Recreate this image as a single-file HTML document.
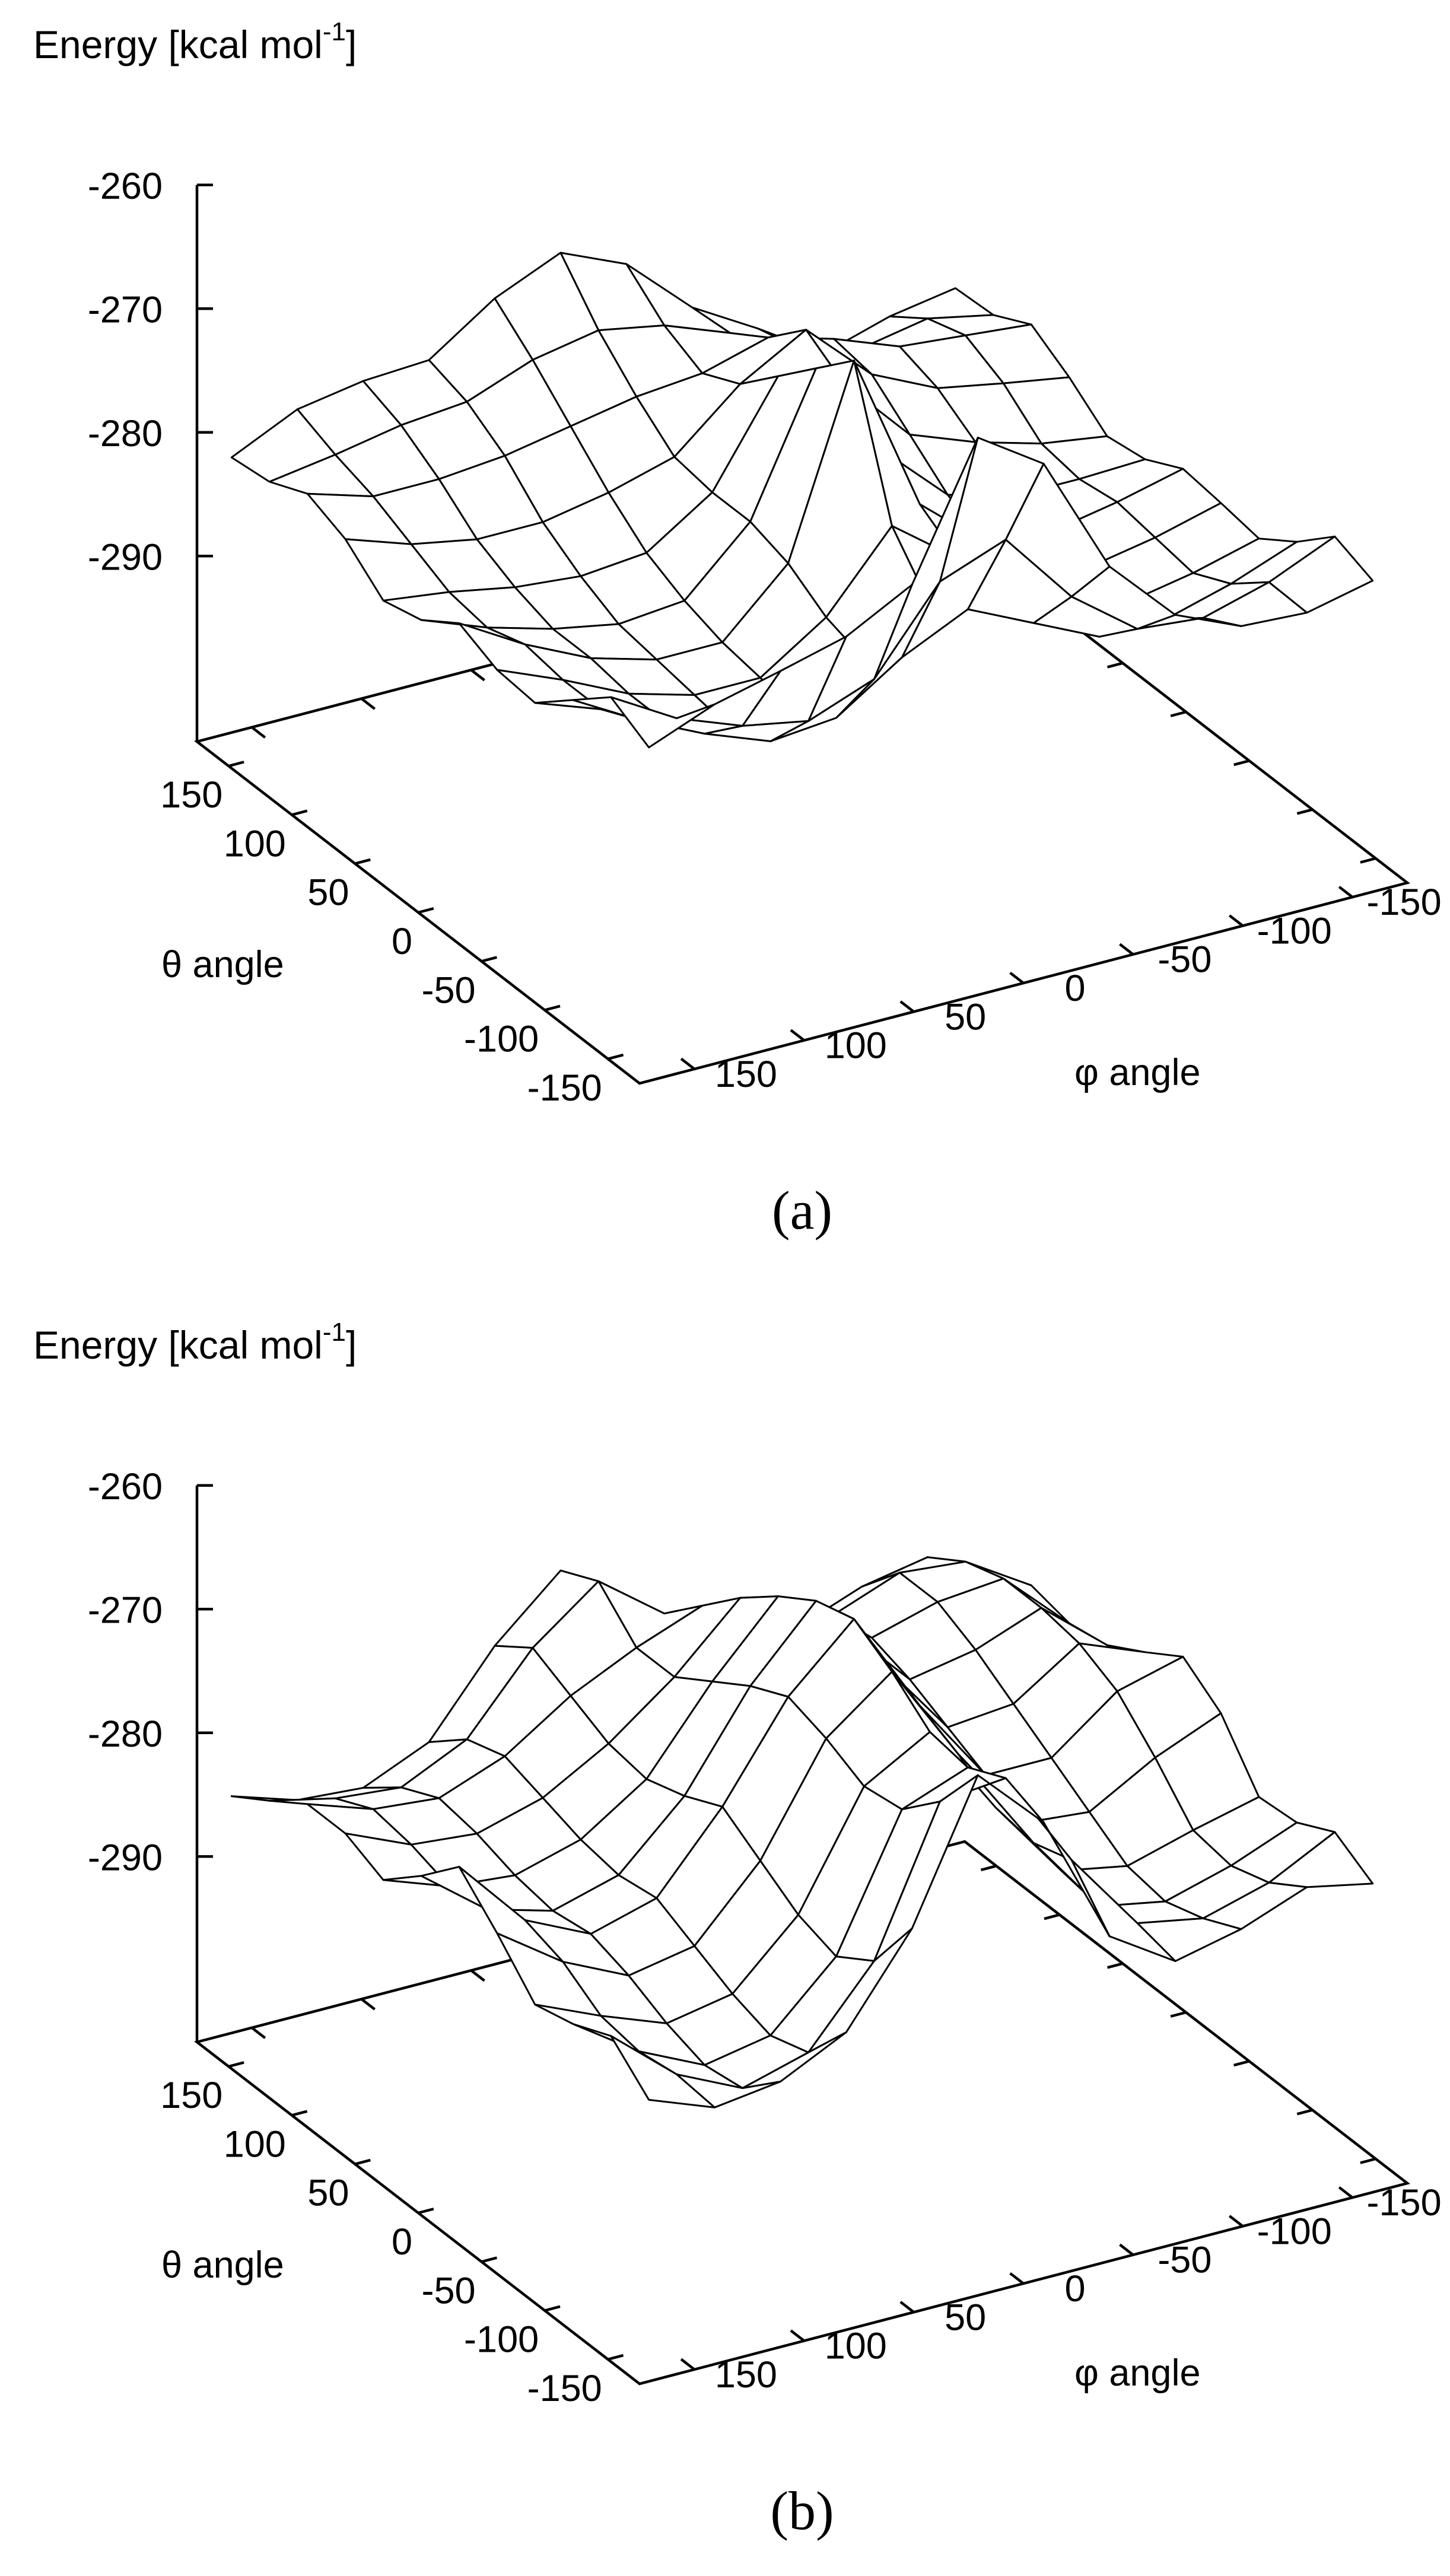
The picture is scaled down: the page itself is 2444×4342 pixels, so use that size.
<!DOCTYPE html>
<html><head><meta charset="utf-8">
<style>
html,body{margin:0;padding:0;background:#fff;}
svg{display:block;}
text{font-family:"Liberation Sans",Arial,sans-serif;fill:#000;}
</style></head>
<body>
<svg id="fig" xmlns="http://www.w3.org/2000/svg" width="2444" height="4342" viewBox="0 0 2444 4342"></svg>
<script>
const phiValues=[165,135,105,75,45,15,-15,-45,-75,-105,-135,-165];
const thetaValues=[165,135,105,75,45,15,-15,-45,-75,-105,-135,-165];
const zTickValues=[-260,-270,-280,-290];
const angleTickValues=[150,100,50,0,-50,-100,-150];
// energy panel (a): rows = theta (165 -> -165), cols = phi (165 -> -165)
const energyA=[
[-281.7,-279.2,-278.3,-278.0,-274.4,-272.1,-274.4,-279.3,-282.4,-285.8,-284.2,-283.3],
[-281.3,-280.5,-279.5,-279.0,-277.0,-276.0,-277.0,-279.0,-281.5,-283.0,-282.0,-283.1],
[-279.9,-281.5,-281.5,-281.0,-280.0,-279.0,-278.5,-277.0,-278.5,-280.5,-281.0,-281.5],
[-281.2,-283.0,-284.0,-284.0,-283.0,-281.5,-277.0,-274.0,-279.0,-281.5,-282.5,-283.4],
[-283.8,-284.5,-285.5,-286.0,-285.5,-282.0,-274.0,-276.0,-281.5,-283.5,-285.0,-285.8],
[-283.0,-285.0,-286.5,-287.5,-287.0,-282.0,-271.0,-279.0,-284.0,-285.5,-285.5,-285.3],
[-280.9,-284.0,-286.5,-288.0,-288.0,-283.0,-268.0,-281.0,-285.5,-286.0,-285.0,-283.7],
[-282.3,-284.5,-287.0,-288.5,-288.5,-285.0,-279.0,-283.0,-286.5,-286.5,-285.5,-284.1],
[-282.6,-284.5,-287.0,-289.0,-289.0,-286.0,-283.0,-285.0,-287.0,-287.0,-286.0,-284.6],
[-280.0,-283.0,-285.5,-287.5,-287.0,-283.5,-281.0,-283.5,-286.0,-286.0,-284.5,-282.5],
[-277.4,-280.5,-282.5,-283.5,-281.5,-275.0,-273.0,-279.0,-283.0,-283.5,-282.0,-279.7],
[-279.1,-277.0,-275.7,-274.3,-271.5,-261.0,-264.5,-274.2,-279.5,-281.8,-282.1,-280.9]
];
// energy panel (b)
const energyB=[
[-284.8,-286.5,-286.9,-284.6,-278.2,-273.5,-280.2,-283.1,-284.4,-283.2,-281.2,-281.2],
[-282.8,-284.0,-284.5,-282.0,-276.0,-272.0,-276.0,-279.0,-280.0,-278.0,-277.0,-280.0],
[-280.7,-282.5,-283.0,-281.0,-277.5,-275.0,-273.0,-275.0,-276.5,-274.5,-275.0,-278.3],
[-280.7,-283.0,-283.5,-282.0,-279.0,-275.0,-270.0,-272.0,-276.0,-274.5,-274.0,-279.0],
[-282.1,-284.0,-284.5,-283.0,-279.5,-273.0,-267.5,-271.5,-277.0,-276.0,-274.0,-278.4],
[-279.4,-283.5,-285.0,-283.5,-278.5,-271.0,-265.5,-272.0,-278.5,-278.0,-274.5,-276.6],
[-276.3,-282.0,-284.5,-283.0,-277.0,-269.5,-264.6,-273.0,-280.0,-280.0,-276.0,-274.6],
[-279.3,-283.0,-285.5,-284.5,-279.0,-270.5,-266.5,-274.5,-281.5,-282.0,-279.0,-276.8],
[-282.7,-285.0,-287.0,-286.0,-281.0,-272.0,-269.0,-276.5,-283.0,-284.0,-282.5,-281.2],
[-281.9,-285.5,-288.0,-287.0,-282.0,-271.5,-269.5,-277.0,-283.5,-284.5,-283.0,-280.9],
[-280.5,-285.0,-287.5,-286.0,-280.0,-268.5,-268.0,-276.0,-282.5,-283.5,-282.0,-279.3],
[-283.3,-285.3,-284.6,-282.0,-275.0,-264.0,-269.2,-279.8,-283.2,-282.0,-280.0,-281.1]
];

const NS="http://www.w3.org/2000/svg";
const svg=document.getElementById('fig');
const AX=175, ZMIN=-305, ZS=20.85;
function mk(tag,attrs,parent){const e=document.createElementNS(NS,tag);for(const k in attrs)e.setAttribute(k,attrs[k]);(parent||svg).appendChild(e);return e;}

function drawPanel(energy,off,letter){
  const g=mk('g',{});
  
  
  const L={x:332,y:1250+off},F={x:1078,y:1826+off},R={x:2372,y:1488+off};
  const B={x:L.x+R.x-F.x,y:L.y+R.y-F.y};
  function base(theta,phi){const u=(AX-theta)/(2*AX),v=(AX-phi)/(2*AX);
    return {x:L.x+(F.x-L.x)*u+(R.x-F.x)*v,y:L.y+(F.y-L.y)*u+(R.y-F.y)*v};}
  function proj(theta,phi,z){const b=base(theta,phi);return {x:b.x,y:b.y-(z-ZMIN)*ZS,d:b.y};}
  function zY(z){return L.y-(z-ZMIN)*ZS;}
  const box=mk('path',{d:`M${B.x},${B.y}L${L.x},${L.y}L${F.x},${F.y}L${R.x},${R.y}Z`,fill:'none',stroke:'#000','stroke-width':4.5},g);
  
  
  const zax=mk('line',{x1:L.x,y1:L.y,x2:L.x,y2:zY(zTickValues[0]),stroke:'#000','stroke-width':4.5},g);
  
  
  zTickValues.forEach(v=>{
    const y=zY(v);
    const t=mk('line',{x1:L.x,y1:y,x2:L.x+27,y2:y,stroke:'#000','stroke-width':4.5},g);
    
    
    const lb=mk('text',{x:274,y:y+23,'font-size':63,'text-anchor':'end'},g);
    lb.textContent=String(v);
    
    
  });
  const tv={x:(R.x-F.x)*0.02,y:(R.y-F.y)*0.02}, tu={x:(F.x-L.x)*0.03,y:(F.y-L.y)*0.03};
  angleTickValues.forEach(a=>{
    const p=base(a,AX), q=base(a,-AX);
    const t1=mk('line',{x1:p.x,y1:p.y,x2:p.x+tv.x,y2:p.y+tv.y,stroke:'#000','stroke-width':4.5},g);
    
    
    const t2=mk('line',{x1:q.x,y1:q.y,x2:q.x-tv.x,y2:q.y-tv.y,stroke:'#000','stroke-width':4.5},g);
    
    
    const lb=mk('text',{x:p.x-10,y:p.y+70,'font-size':63,'text-anchor':'end'},g);
    lb.textContent=String(a);
    
    
    const r=base(-AX,a), s=base(AX,a);
    const t3=mk('line',{x1:r.x,y1:r.y,x2:r.x-tu.x,y2:r.y-tu.y,stroke:'#000','stroke-width':4.5},g);
    
    
    const t4=mk('line',{x1:s.x,y1:s.y,x2:s.x+tu.x,y2:s.y+tu.y,stroke:'#000','stroke-width':4.5},g);
    
    
    const lb2=mk('text',{x:r.x+87,y:r.y+30,'font-size':63,'text-anchor':'middle'},g);
    lb2.textContent=String(a);
    
    
  });
  const quads=[];
  for(let i=0;i<thetaValues.length-1;i++)for(let j=0;j<phiValues.length-1;j++){
    const pts=[proj(thetaValues[i],phiValues[j],energy[i][j]),proj(thetaValues[i],phiValues[j+1],energy[i][j+1]),
      proj(thetaValues[i+1],phiValues[j+1],energy[i+1][j+1]),proj(thetaValues[i+1],phiValues[j],energy[i+1][j])];
    quads.push({pts,d:(pts[0].d+pts[1].d+pts[2].d+pts[3].d)/4});
  }
  quads.sort((a,b)=>a.d-b.d);
  const sg=mk('g',{},g);
  
  
  quads.forEach(q=>{
    const el=mk('polygon',{points:q.pts.map(p=>p.x.toFixed(1)+','+p.y.toFixed(1)).join(' '),fill:'#fff',stroke:'#000','stroke-width':3,'stroke-linejoin':'round'},sg);
    
    
  });
  const tt=mk('text',{x:56,y:98+off,'font-size':66},g);
  
  
  tt.innerHTML='Energy [kcal mol<tspan font-size="44" dy="-30">-1</tspan><tspan dy="30">]</tspan>';
  const th=mk('text',{x:272,y:1647+off,'font-size':63},g);
  th.textContent='\u03B8 angle';
  
  
  const ph=mk('text',{x:1811,y:1829+off,'font-size':63},g);
  ph.textContent='\u03C6 angle';
  
  
  const cap=mk('text',{x:1352,y:2071+off,'font-size':92,'text-anchor':'middle',style:'font-family:"Liberation Serif",serif'},g);
  cap.textContent='('+letter+')';
  
  
}
drawPanel(energyA,0,'a');
drawPanel(energyB,2192,'b');
</script>
</body></html>
